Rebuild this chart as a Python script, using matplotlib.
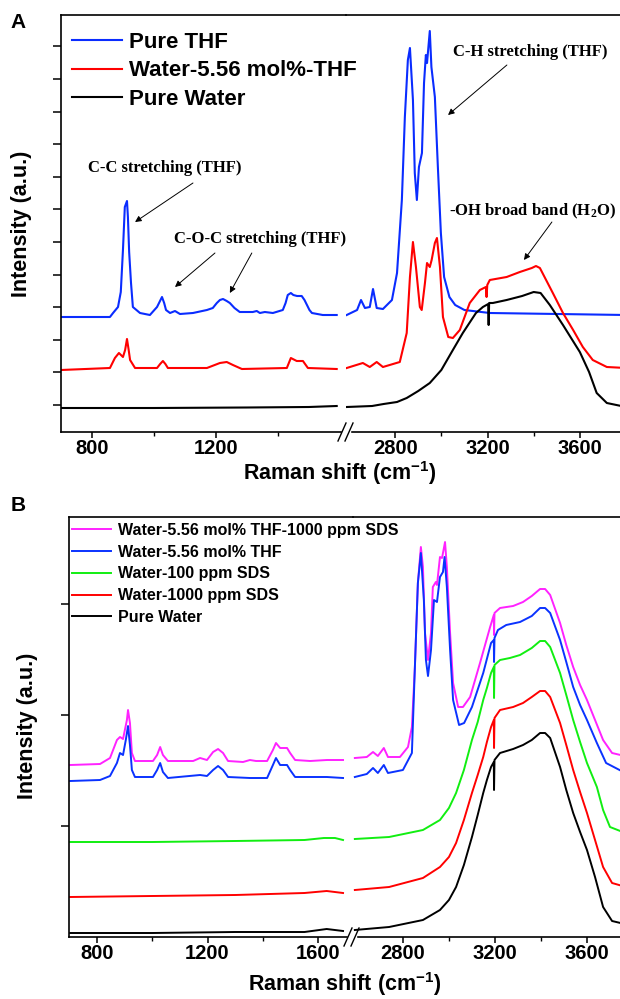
import numpy as np
import matplotlib
matplotlib.use("Agg")
import matplotlib.pyplot as plt

plt.rcParams['font.family'] = ['Liberation Sans', 'DejaVu Sans']
plt.rcParams['font.weight'] = 'bold'
plt.rcParams['mathtext.default'] = 'regular'

# ---------------- panel A data (Raman shift cm-1, intensity a.u.) ----------------
a_thf_left_x = [700, 858, 868, 884, 893, 900, 906, 913, 916, 920, 926, 932, 955, 987, 1010, 1018,
                1026, 1033, 1039, 1052, 1068, 1084, 1126, 1171, 1190, 1203, 1213, 1223, 1235,
                1245, 1260, 1277, 1319, 1332, 1342, 1358, 1384, 1416, 1425, 1432, 1442, 1450,
                1462, 1477, 1486, 1494, 1502, 1510, 1545, 1590]
a_thf_left_y = [1150, 1150, 1190, 1250, 1400, 1820, 2250, 2310, 2150, 1800, 1490, 1250, 1190, 1170, 1250, 1300,
                1350, 1290, 1220, 1190, 1210, 1180, 1190, 1220, 1240, 1290, 1320, 1330, 1310,
                1290, 1240, 1200, 1200, 1210, 1190, 1200, 1190, 1220, 1290, 1370, 1390, 1370,
                1360, 1360, 1320, 1270, 1220, 1190, 1170, 1170]
a_thf_right_x = [2590, 2635, 2652, 2669, 2690, 2704, 2720, 2747, 2786, 2808, 2829, 2842, 2855, 2864,
                 2877, 2885, 2894, 2903, 2916, 2925, 2933, 2938, 2950, 2957, 2972, 2985, 2998,
                 3012, 3035, 3060, 3100, 3210, 3800]
a_thf_right_y = [1170, 1220, 1320, 1240, 1250, 1430, 1240, 1230, 1320, 1590, 2320, 3150, 3720, 3840,
                 3320, 2590, 2320, 2650, 2790, 3490, 3770, 3690, 4010, 3650, 3350, 2650, 1990,
                 1550, 1350, 1270, 1220, 1190, 1170]

a_mix_left_x = [700, 858, 874, 887, 900, 907, 913, 918, 923, 939, 1010, 1020, 1029, 1037, 1045, 1171,
                1213, 1235, 1255, 1284, 1429, 1442, 1461, 1481, 1497, 1590]
a_mix_left_y = [620, 640, 740, 790, 750, 820, 930, 830, 720, 640, 640, 680, 710, 680, 640, 640,
                690, 700, 670, 630, 640, 740, 710, 710, 640, 630]
a_mix_right_x = [2590, 2660, 2690, 2720, 2747, 2820, 2850, 2864, 2877, 2890, 2907, 2915, 2929, 2938,
                 2950, 2958, 2972, 2981, 2994, 3007, 3030, 3050, 3080, 3123, 3167, 3193, 3196,
                 3199, 3210, 3283, 3340, 3392, 3410, 3427, 3483, 3527, 3571, 3613, 3656, 3717, 3800]
a_mix_right_y = [640, 690, 650, 700, 650, 700, 990, 1550, 1900, 1650, 1250, 1220, 1490, 1690,
                 1650, 1720, 1890, 1940, 1650, 1150, 950, 940, 1020, 1290, 1420, 1450, 1350,
                 1470, 1520, 1550, 1600, 1640, 1660, 1640, 1390, 1190, 1020, 850, 720, 650, 640]

a_water_left_x = [700, 1000, 1300, 1500, 1590]
a_water_left_y = [240, 240, 245, 250, 260]
a_water_right_x = [2590, 2700, 2750, 2808, 2850, 2900, 2950, 3000, 3050, 3093, 3150, 3180, 3203,
                   3205, 3207, 3223, 3283, 3350, 3400, 3430, 3470, 3527, 3600, 3640, 3673, 3717, 3800]
a_water_right_y = [250, 260, 280, 300, 340, 410, 490, 620, 820, 990, 1190, 1250, 1280,
                   1070, 1290, 1290, 1320, 1360, 1400, 1390, 1270, 1070, 800, 600, 390, 290, 250]

a_labels = ['Pure THF', 'Water-5.56 mol%-THF', 'Pure Water']
a_colors = ['#0a2cff', '#ff0000', '#000000']

# ---------------- panel B data ----------------
b_labels = ['Water-5.56 mol% THF-1000 ppm SDS', 'Water-5.56 mol% THF',
            'Water-100 ppm SDS', 'Water-1000 ppm SDS', 'Pure Water']
b_colors = ['#ff22ff', '#0a32ff', '#11ee11', '#ff0000', '#000000']

b_mag_left_x = [704, 812, 848, 873, 884, 895, 909, 913, 920, 927, 938, 1003, 1018, 1029, 1039,
                1057, 1148, 1173, 1198, 1220, 1238, 1256, 1274, 1328, 1353, 1375, 1415, 1436,
                1447, 1462, 1487, 1498, 1516, 1570, 1631, 1689]
b_mag_left_y = [1720, 1730, 1790, 1970, 2000, 1980, 2170, 2270, 2140, 1840, 1760, 1760, 1820, 1900, 1820,
                1760, 1760, 1790, 1770, 1850, 1880, 1840, 1760, 1750, 1770, 1760, 1760, 1870,
                1940, 1890, 1890, 1840, 1770, 1760, 1770, 1770]
b_mag_right_x = [2591, 2643, 2670, 2691, 2717, 2735, 2787, 2822, 2839, 2852, 2865, 2878, 2887, 2896,
                 2909, 2922, 2930, 2943, 2948, 2961, 2970, 2983, 2991, 3005, 3018, 3040, 3061,
                 3092, 3135, 3179, 3195, 3196, 3198, 3222, 3279, 3322, 3360, 3396, 3418, 3440,
                 3483, 3510, 3540, 3570, 3600, 3635, 3670, 3709, 3800]
b_mag_right_y = [1790, 1800, 1850, 1810, 1890, 1800, 1800, 1900, 2100, 2700, 3540, 3900, 3700, 3040,
                 2770, 3040, 3500, 3550, 3520, 3800, 3790, 3950, 3700, 3040, 2540, 2300, 2300,
                 2400, 2740, 3100, 3220, 3020, 3240, 3290, 3310, 3350, 3410, 3480, 3480, 3420,
                 3140, 2920, 2700, 2520, 2370, 2170, 1970, 1840, 1790]

b_blue_left_x = [704, 812, 848, 873, 884, 895, 905, 913, 920, 927, 938, 1003, 1018, 1029, 1039,
                 1057, 1173, 1198, 1220, 1238, 1256, 1274, 1353, 1415, 1436, 1447, 1462, 1487,
                 1498, 1516, 1631, 1689]
b_blue_left_y = [1560, 1570, 1610, 1740, 1840, 1820, 1970, 2110, 1920, 1670, 1600, 1600, 1670, 1740, 1650,
                 1590, 1620, 1610, 1670, 1710, 1670, 1600, 1590, 1590, 1720, 1790, 1720, 1720,
                 1670, 1600, 1600, 1590]
b_blue_right_x = [2591, 2643, 2670, 2691, 2717, 2735, 2800, 2839, 2852, 2865, 2878, 2891, 2900, 2909,
                  2922, 2935, 2948, 2961, 2974, 2981, 2991, 3005, 3018, 3044, 3066, 3100, 3149,
                  3183, 3195, 3196, 3198, 3213, 3249, 3309, 3360, 3396, 3418, 3440, 3483, 3510,
                  3540, 3570, 3600, 3643, 3683, 3800]
b_blue_right_y = [1600, 1630, 1690, 1640, 1720, 1640, 1670, 1840, 2700, 3540, 3840, 3370, 2770, 2610,
                  2870, 3370, 3350, 3600, 3650, 3800, 3500, 2870, 2370, 2120, 2140, 2300, 2640,
                  2940, 2970, 2750, 2990, 3070, 3120, 3150, 3210, 3290, 3290, 3240, 2970, 2750,
                  2500, 2320, 2170, 1940, 1740, 1600]

b_green_left_x = [704, 1000, 1300, 1550, 1620, 1660, 1689]
b_green_left_y = [950, 950, 960, 970, 990, 990, 970]
b_green_right_x = [2591, 2740, 2887, 2961, 3000, 3031, 3065, 3100, 3125, 3149, 3165, 3183, 3195,
                   3196, 3198, 3222, 3265, 3309, 3360, 3396, 3418, 3440, 3483, 3510, 3540, 3570,
                   3600, 3643, 3670, 3700, 3800]
b_green_right_y = [980, 1000, 1070, 1170, 1290, 1440, 1670, 1970, 2150, 2370, 2490, 2640, 2700,
                   2390, 2720, 2770, 2790, 2820, 2890, 2960, 2960, 2900, 2640, 2420, 2170, 1950,
                   1740, 1500, 1270, 1100, 1010]

b_red_left_x = [704, 1000, 1300, 1550, 1630, 1689]
b_red_left_y = [400, 410, 420, 440, 460, 440]
b_red_right_x = [2591, 2740, 2887, 2961, 3000, 3031, 3065, 3100, 3125, 3149, 3165, 3183, 3195,
                 3196, 3198, 3222, 3279, 3322, 3360, 3396, 3418, 3440, 3483, 3510, 3540, 3570,
                 3600, 3635, 3670, 3709, 3800]
b_red_right_y = [470, 500, 590, 700, 800, 940, 1170, 1440, 1620, 1800, 1950, 2100, 2170,
                 1890, 2190, 2270, 2300, 2340, 2400, 2460, 2460, 2400, 2140, 1920, 1670, 1450,
                 1240, 970, 700, 540, 480]

b_water_left_x = [704, 1000, 1300, 1550, 1630, 1689]
b_water_left_y = [40, 40, 50, 50, 80, 60]
b_water_right_x = [2591, 2740, 2887, 2961, 3000, 3031, 3065, 3100, 3125, 3149, 3165, 3183, 3195,
                   3196, 3198, 3222, 3279, 3322, 3360, 3396, 3418, 3440, 3483, 3510, 3540, 3570,
                   3600, 3635, 3670, 3709, 3800]
b_water_right_y = [70, 100, 170, 270, 370, 500, 720, 1000, 1220, 1440, 1570, 1700, 1750,
                   1470, 1770, 1840, 1880, 1920, 1970, 2040, 2040, 1990, 1700, 1470, 1240, 1050,
                   870, 600, 300, 160, 110]

# ---------------- figure ----------------
W, H = 620, 999
fig = plt.figure(figsize=(W / 100, H / 100), dpi=100)


def px_axes(x0, x1, y0, y1):
    return fig.add_axes([x0 / W, 1 - y1 / H, (x1 - x0) / W, (y1 - y0) / H])


def style_pair(axl, axr, xl, xr, yl, yticks, lmaj, lmin, rmaj, rmin):
    for ax in (axl, axr):
        ax.set_ylim(*yl)
        ax.spines['right'].set_visible(False)
        for s in ('top', 'bottom', 'left'):
            ax.spines[s].set_linewidth(1.2)
        ax.tick_params(axis='x', which='major', direction='out', length=4.5, width=1.1,
                       labelsize=14.5, pad=0.5, top=False)
        ax.tick_params(axis='x', which='minor', direction='out', length=3, width=1.0, top=False)
        ax.patch.set_alpha(0)
    axl.set_xlim(*xl)
    axr.set_xlim(*xr)
    axr.spines['left'].set_visible(False)
    axr.tick_params(axis='y', left=False, labelleft=False)
    axl.set_yticks(yticks)
    axl.tick_params(axis='y', direction='out', length=6, width=1.1, labelleft=False)
    axl.set_xticks(lmaj)
    axl.set_xticks(lmin, minor=True)
    axr.set_xticks(rmaj)
    axr.set_xticks(rmin, minor=True)


def break_marks(xpx, ypx):
    # white gap in the bottom spine plus the "//" marks
    fig.patches.append(plt.Rectangle(((xpx - 4) / W, 1 - (ypx + 2) / H), 8 / W, 4 / H,
                                     transform=fig.transFigure, color='white', zorder=5))
    for dx in (-4, 3):
        fig.add_artist(plt.Line2D([(xpx + dx - 4) / W, (xpx + dx + 4) / W],
                                  [1 - (ypx + 9) / H, 1 - (ypx - 9) / H],
                                  color='black', lw=1.0, zorder=6))


# ---------- panel A ----------
axL = px_axes(61, 346, 15, 432)
axR = px_axes(346, 626, 15, 432)
a_left = [(a_thf_left_x, a_thf_left_y), (a_mix_left_x, a_mix_left_y), (a_water_left_x, a_water_left_y)]
a_right = [(a_thf_right_x, a_thf_right_y), (a_mix_right_x, a_mix_right_y), (a_water_right_x, a_water_right_y)]
a_lines = []
for (lx, ly), (rx, ry), c, lab in zip(a_left, a_right, a_colors, a_labels):
    ln, = axL.plot(lx, ly, color=c, lw=1.5, label=lab)
    axR.plot(rx, ry, color=c, lw=1.5)
    a_lines.append(ln)
style_pair(axL, axR, (700, 1620), (2587, 3800), (0, 4170), np.arange(270, 4170, 326),
           [800, 1200], [1000, 1400], [2800, 3200, 3600], [3000, 3400])
break_marks(346, 432)

axL.legend(handles=a_lines, loc='upper left', bbox_to_anchor=(72 / W, 1 - 32 / H),
           bbox_transform=fig.transFigure, frameon=False, borderaxespad=0,
           handlelength=2.25, handletextpad=0.3, labelspacing=0.33, borderpad=0,
           prop={'weight': 'bold', 'size': 16})

serif = ['Liberation Serif', 'DejaVu Serif']
ann = dict(family=serif, weight='bold', fontsize=12, ha='center', va='center')
arr = dict(arrowstyle='-|>', color='black', lw=0.7, mutation_scale=9, shrinkA=0, shrinkB=0)
fig.text(165 / W, 1 - 168 / H, 'C-C stretching (THF)', **ann)
fig.text(260 / W, 1 - 239 / H, 'C-O-C stretching (THF)', **ann)
fig.text(530 / W, 1 - 52 / H, 'C-H stretching (THF)', **ann)
fig.text(533 / W, 1 - 211 / H, '-OH broad band (H$_2$O)', **ann)
axL.annotate('', xy=(939, 2100), xytext=(1126, 2490), arrowprops=arr)
axL.annotate('', xy=(1068, 1450), xytext=(1197, 1790), arrowprops=arr)
axL.annotate('', xy=(1245, 1390), xytext=(1316, 1790), arrowprops=arr)
axR.annotate('', xy=(3029, 3170), xytext=(3284, 3670), arrowprops=arr)
axR.annotate('', xy=(3358, 1720), xytext=(3479, 2100), arrowprops=arr)

fig.text(18 / W, 1 - 23 / H, 'A', fontsize=15, weight='bold', ha='center', va='center')
fig.text(340 / W, 1 - 473 / H, 'Raman shift (cm$^{-1}$)', fontsize=15.5, weight='bold',
         ha='center', va='center')
fig.text(22 / W, 1 - 224 / H, 'Intensity (a.u.)', fontsize=15.5, weight='bold',
         ha='center', va='center', rotation=90)

# ---------- panel B ----------
bxL = px_axes(69, 353, 517, 937)
bxR = px_axes(353, 633, 517, 937)
b_left = [(b_mag_left_x, b_mag_left_y), (b_blue_left_x, b_blue_left_y),
          (b_green_left_x, b_green_left_y), (b_red_left_x, b_red_left_y),
          (b_water_left_x, b_water_left_y)]
b_right = [(b_mag_right_x, b_mag_right_y), (b_blue_right_x, b_blue_right_y),
           (b_green_right_x, b_green_right_y), (b_red_right_x, b_red_right_y),
           (b_water_right_x, b_water_right_y)]
b_lines = []
for (lx, ly), (rx, ry), c, lab in zip(b_left, b_right, b_colors, b_labels):
    ln, = bxL.plot(lx, ly, color=c, lw=1.4, label=lab)
    bxR.plot(rx, ry, color=c, lw=1.4)
    b_lines.append(ln)
style_pair(bxL, bxR, (700, 1725), (2583, 3800), (0, 4200), [1110, 2220, 3330],
           [800, 1200, 1600], [1000, 1400], [2800, 3200, 3600], [3000, 3400])
break_marks(352, 937)

bxL.legend(handles=b_lines, loc='upper left', bbox_to_anchor=(72 / W, 1 - 523 / H),
           bbox_transform=fig.transFigure, frameon=False, borderaxespad=0,
           handlelength=2.45, handletextpad=0.45, labelspacing=0.42, borderpad=0,
           prop={'weight': 'bold', 'size': 11.5})

fig.text(18 / W, 1 - 505 / H, 'B', fontsize=15, weight='bold', ha='center', va='center')
fig.text(345 / W, 1 - 984 / H, 'Raman shift (cm$^{-1}$)', fontsize=15.5, weight='bold',
         ha='center', va='center')
fig.text(28 / W, 1 - 726 / H, 'Intensity (a.u.)', fontsize=15.5, weight='bold',
         ha='center', va='center', rotation=90)

fig.savefig('out.png', dpi=100)
